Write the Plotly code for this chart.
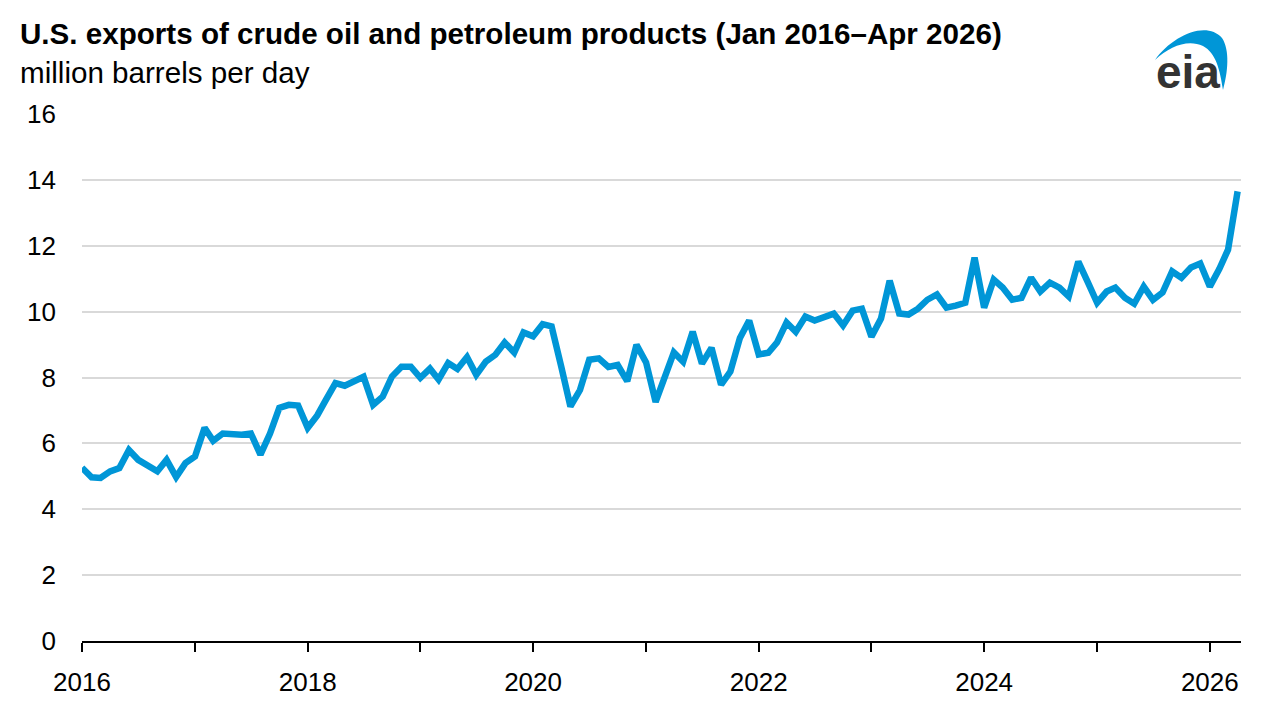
import plotly.graph_objects as go
import pandas as pd

# ---- data (million barrels per day), Jan 2016 - Apr 2026 ----
months = pd.date_range("2016-01-01", "2026-04-01", freq="MS")
exports = [
    # 2016
    5.26, 4.97, 4.95, 5.15, 5.25, 5.80, 5.50, 5.30, 5.15, 5.50, 4.98, 5.40,
    # 2017
    5.60, 6.47, 6.08, 6.30, 6.26, 6.26, 6.30, 5.66, 6.30, 7.08, 7.17, 7.15,
    # 2018
    6.47, 6.85, 7.32, 7.83, 7.75, 7.87, 8.02, 7.17, 7.42, 8.03, 8.33, 8.33,
    # 2019
    7.99, 8.27, 7.94, 8.44, 8.26, 8.62, 8.08, 8.48, 8.69, 9.06, 8.76, 9.37,
    # 2020
    9.25, 9.62, 9.55, 8.34, 7.12, 7.62, 8.54, 8.58, 8.32, 8.38, 7.89, 8.99,
    # 2021
    8.46, 7.26, 7.95, 8.76, 8.48, 9.39, 8.42, 8.90, 7.78, 8.18, 9.20, 9.73,
    # 2022
    8.70, 8.75, 9.06, 9.67, 9.39, 9.85, 9.73, 9.82, 9.94, 9.58, 10.03, 10.09,
    # 2023
    9.24, 9.79, 10.94, 9.94, 9.91, 10.09, 10.36, 10.52, 10.12, 10.18, 10.27, 11.64,
    # 2024
    10.12, 10.97, 10.73, 10.36, 10.42, 11.03, 10.61, 10.88, 10.73, 10.46, 11.52, 10.91,
    # 2025
    10.27, 10.61, 10.73, 10.42, 10.24, 10.76, 10.36, 10.58, 11.22, 11.03, 11.34, 11.46,
    # 2026
    10.76, 11.30, 11.88, 13.65,
]
years = list(range(2016, 2027))
year_ticks = [f"{y}-01-01" for y in years]
year_labels = [str(y) if y % 2 == 0 else "" for y in years]
y_ticks = list(range(0, 17, 2))

title_text = "U.S. exports of crude oil and petroleum products (Jan 2016\u2013Apr 2026)"
units_text = "million barrels per day"

FONT = "Liberation Sans, Arial, sans-serif"
BLUE = "#0096d7"

# plot area in pixels
L, R, T, B = 82, 1241, 114, 641
W, H = R - L, B - T


def pp(x, y):
    return (x - L) / W, (B - y) / H


fig = go.Figure(
    go.Scatter(
        x=months, y=exports, mode="lines",
        line=dict(color=BLUE, width=6.5),
        hoverinfo="skip",
    )
)

fig.update_layout(
    width=1280, height=720,
    margin=dict(l=L, r=1280 - R, t=T, b=720 - B),
    paper_bgcolor="white", plot_bgcolor="white",
    showlegend=False,
    font=dict(family=FONT, color="black"),
)

fig.update_xaxes(
    type="date",
    range=["2016-01-01", "2026-04-12"],
    tickvals=year_ticks, ticktext=year_labels,
    ticks="outside", ticklen=9, tickwidth=1.5, tickcolor="black",
    showline=True, linecolor="black", linewidth=2,
    showgrid=False, zeroline=False,
    tickfont=dict(size=26, family=FONT, color="black"),
    ticklabelstandoff=8,
)
fig.update_yaxes(
    range=[0, 16], tickvals=y_ticks,
    showgrid=True, gridcolor="#d9d9d9", gridwidth=2,
    zeroline=False, showline=False, ticks="",
    tickfont=dict(size=26, family=FONT, color="black"),
    ticklabelstandoff=25,
)

tx, ty = pp(18, 34)
sx, sy = pp(18, 73)
fig.add_annotation(
    text="<b>" + title_text + "</b>", xref="paper", yref="paper",
    x=tx, y=ty, xanchor="left", yanchor="middle", showarrow=False,
    font=dict(size=29.6, family=FONT, color="black"),
)
fig.add_annotation(
    text=units_text, xref="paper", yref="paper",
    x=sx, y=sy, xanchor="left", yanchor="middle", showarrow=False,
    font=dict(size=29.6, family=FONT, color="black"),
)

# eia logo: text + blue swoosh
ex, ey = pp(1188, 72)
fig.add_annotation(
    text="<b>eia</b>", xref="paper", yref="paper",
    x=ex, y=ey, xanchor="center", yanchor="middle", showarrow=False,
    font=dict(size=46, family=FONT, color="#333333"),
)

swoosh = [
    ("M", [(1155, 60)]),
    ("C", [(1172, 36), (1206, 20), (1222, 38)]),
    ("C", [(1230, 50), (1228, 72), (1223, 90)]),
    ("C", [(1220, 70), (1216, 53), (1203, 46)]),
    ("C", [(1188, 39), (1170, 46), (1155, 60)]),
]
path = ""
for cmd, pts in swoosh:
    path += cmd + " " + " ".join("{:.5f},{:.5f}".format(*pp(px, py)) for px, py in pts) + " "
path += "Z"
fig.add_shape(type="path", path=path, xref="paper", yref="paper",
              fillcolor=BLUE, line=dict(width=0), layer="above")

fig.write_html("out.html")
